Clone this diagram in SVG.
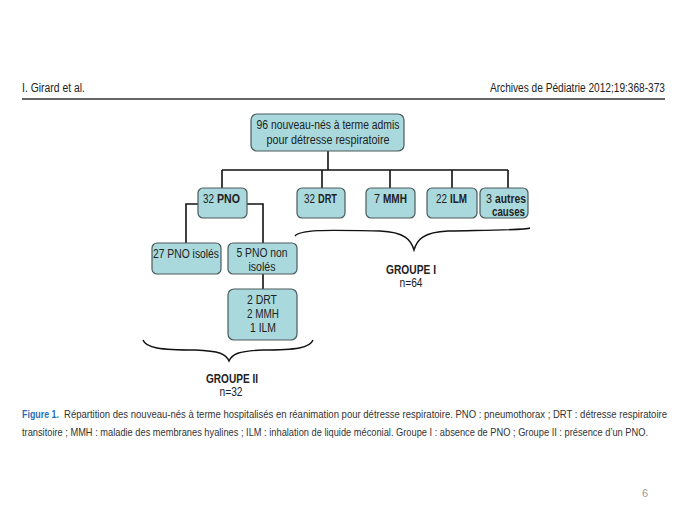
<svg xmlns="http://www.w3.org/2000/svg" width="689" height="517" viewBox="0 0 689 517">
<style>
.box{fill:#a9d9dc;stroke:#4a5a5c;stroke-width:1.2}
.t{font-family:"Liberation Sans Narrow","Liberation Sans",Arial,sans-serif;font-size:12px;fill:#222;text-anchor:middle}
.s{font-family:"Liberation Sans Narrow","Liberation Sans",Arial,sans-serif;font-size:12px;fill:#222}
.b{font-weight:bold}
.ln{fill:none;stroke:#111;stroke-width:1.6}
.br{fill:none;stroke:#111;stroke-width:1.4}
.hd{font-family:"Liberation Sans Narrow","Liberation Sans",Arial,sans-serif;font-size:12px;fill:#222}
.cap{font-family:"Liberation Sans Narrow","Liberation Sans",Arial,sans-serif;font-size:11px;fill:#333}
</style>
<rect width="689" height="517" fill="#fff"/>
<g id="header">
<text class="hd" x="22" y="92" textLength="63" lengthAdjust="spacingAndGlyphs">I. Girard et al.</text>
<text class="hd" x="490" y="92" textLength="175" lengthAdjust="spacingAndGlyphs">Archives de Pédiatrie 2012;19:368-373</text>
<line x1="22" y1="99" x2="665" y2="99" stroke="#333" stroke-width="1.5"/>
</g>
<g id="connectors">
<path class="ln" d="M328 151V170M222 170H508M222 170V188M322 170V188M390 170V188M452 170V188M508 170V188"/>
<path class="ln" d="M198 204H186V243M247 204H263V243M263 274V289"/>
</g>
<g id="n-root"><rect class="box" x="251" y="114" width="153" height="37" rx="6"/>
<text class="t" x="328" y="129" textLength="143" lengthAdjust="spacingAndGlyphs">96 nouveau-nés à terme admis</text>
<text class="t" x="328" y="144" textLength="123" lengthAdjust="spacingAndGlyphs">pour détresse respiratoire</text></g>
<g id="n-pno"><rect class="box" x="198" y="188" width="49" height="30" rx="5"/>
<text class="s" x="203" y="203" textLength="11" lengthAdjust="spacingAndGlyphs">32</text>
<text class="s b" x="217" y="203" textLength="23" lengthAdjust="spacingAndGlyphs">PNO</text></g>
<g id="n-drt"><rect class="box" x="297" y="188" width="48" height="30" rx="5"/>
<text class="s" x="304" y="203" textLength="11" lengthAdjust="spacingAndGlyphs">32</text>
<text class="s b" x="318" y="203" textLength="19" lengthAdjust="spacingAndGlyphs">DRT</text></g>
<g id="n-mmh"><rect class="box" x="366" y="188" width="49" height="30" rx="5"/>
<text class="s" x="374" y="203" textLength="6" lengthAdjust="spacingAndGlyphs">7</text>
<text class="s b" x="383" y="203" textLength="24" lengthAdjust="spacingAndGlyphs">MMH</text></g>
<g id="n-ilm"><rect class="box" x="427" y="188" width="50" height="30" rx="5"/>
<text class="s" x="436" y="203" textLength="11" lengthAdjust="spacingAndGlyphs">22</text>
<text class="s b" x="450" y="203" textLength="17" lengthAdjust="spacingAndGlyphs">ILM</text></g>
<g id="n-autres"><rect class="box" x="480" y="188" width="48" height="30" rx="5"/>
<text class="s" x="486" y="203" textLength="6" lengthAdjust="spacingAndGlyphs">3</text>
<text class="s b" x="495" y="203" textLength="31" lengthAdjust="spacingAndGlyphs">autres</text>
<text class="s b" x="492" y="216" textLength="33" lengthAdjust="spacingAndGlyphs">causes</text></g>
<g id="n-isoles"><rect class="box" x="152" y="243" width="69" height="31" rx="5"/>
<text class="t" x="186" y="258" textLength="66" lengthAdjust="spacingAndGlyphs">27 PNO isolés</text></g>
<g id="n-nonisoles"><rect class="box" x="228" y="243" width="69" height="31" rx="5"/>
<text class="t" x="262" y="257" textLength="51" lengthAdjust="spacingAndGlyphs">5 PNO non</text>
<text class="t" x="262" y="271" textLength="27" lengthAdjust="spacingAndGlyphs">isolés</text></g>
<g id="n-detail"><rect class="box" x="228" y="289" width="69" height="51" rx="6"/>
<text class="t" x="262" y="304" textLength="30" lengthAdjust="spacingAndGlyphs">2 DRT</text>
<text class="t" x="263" y="318" textLength="32" lengthAdjust="spacingAndGlyphs">2 MMH</text>
<text class="t" x="263" y="332" textLength="26" lengthAdjust="spacingAndGlyphs">1 ILM</text></g>
<g id="brace-1">
<path class="br" d="M295 236C300 229 330 230 380 231C405 232 411 240 414 250C417 240 423 232 448 231C500 230 526 230 530 228"/>
<text class="t b" x="411" y="274" textLength="50" lengthAdjust="spacingAndGlyphs">GROUPE I</text>
<text class="t" x="411" y="287" textLength="23" lengthAdjust="spacingAndGlyphs">n=64</text>
</g>
<g id="brace-2">
<path class="br" d="M143 340C146 348 160 350 195 350C220 351 226 354 229 361C232 354 238 351 263 350C296 350 310 348 313 340"/>
<text class="t b" x="232" y="383" textLength="52" lengthAdjust="spacingAndGlyphs">GROUPE II</text>
<text class="t" x="231" y="396" textLength="23" lengthAdjust="spacingAndGlyphs">n=32</text>
</g>
<g id="caption">
<text class="cap b" x="22" y="418" textLength="37" lengthAdjust="spacingAndGlyphs" style="fill:#2a6fb6">Figure 1.</text>
<text class="cap" x="64" y="418" textLength="603" lengthAdjust="spacingAndGlyphs">Répartition des nouveau-nés à terme hospitalisés en réanimation pour détresse respiratoire. PNO : pneumothorax ; DRT : détresse respiratoire</text>
<text class="cap" x="22" y="436" textLength="626" lengthAdjust="spacingAndGlyphs">transitoire ; MMH : maladie des membranes hyalines ; ILM : inhalation de liquide méconial. Groupe I : absence de PNO ; Groupe II : présence d’un PNO.</text>
</g>
<text x="645" y="497" font-family="Liberation Sans,sans-serif" font-size="11" fill="#999" text-anchor="middle">6</text>
</svg>
